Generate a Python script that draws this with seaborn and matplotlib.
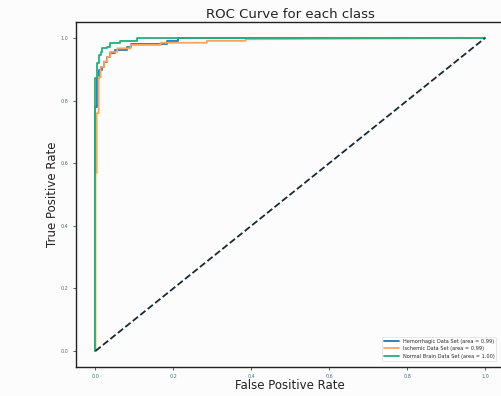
import matplotlib
matplotlib.use("Agg")
import matplotlib.pyplot as plt
import seaborn as sns
import pandas as pd

sns.set_style("ticks")
plt.rcParams['font.family'] = ['DejaVu Sans']

# ROC corner points
hem_fpr = [0.0, 0.0, 0.003, 0.003, 0.008, 0.008, 0.016, 0.016, 0.021, 0.021, 0.03, 0.03,
           0.038, 0.038, 0.051, 0.051, 0.081, 0.081, 0.09, 0.09, 0.184, 0.184, 0.213, 0.213, 1.0]
hem_tpr = [0.0, 0.78, 0.78, 0.871, 0.871, 0.898, 0.898, 0.908, 0.908, 0.924, 0.924, 0.94,
           0.94, 0.951, 0.951, 0.962, 0.962, 0.972, 0.972, 0.981, 0.981, 0.991, 0.991, 1.0, 1.0]

isc_fpr = [0.0, 0.0, 0.003, 0.003, 0.008, 0.008, 0.013, 0.013, 0.022, 0.022, 0.03, 0.03,
           0.038, 0.038, 0.056, 0.056, 0.09, 0.09, 0.167, 0.167, 0.286, 0.286, 0.385, 0.385, 1.0]
isc_tpr = [0.0, 0.57, 0.57, 0.76, 0.76, 0.875, 0.875, 0.908, 0.908, 0.925, 0.925, 0.94,
           0.94, 0.956, 0.956, 0.967, 0.967, 0.978, 0.978, 0.985, 0.985, 0.991, 0.991, 0.996, 1.0]

nor_fpr = [0.0, 0.0, 0.003, 0.003, 0.008, 0.008, 0.013, 0.013, 0.017, 0.017, 0.03, 0.03,
           0.038, 0.038, 0.062, 0.062, 0.107, 0.107, 1.0]
nor_tpr = [0.0, 0.872, 0.872, 0.919, 0.919, 0.945, 0.945, 0.956, 0.956, 0.967, 0.967, 0.972,
           0.972, 0.983, 0.983, 0.991, 0.991, 1.0, 1.0]

labels = ["Hemorrhagic Data Set (area = 0.99)",
          "Ischemic Data Set (area = 0.99)",
          "Normal Brain Data Set (area = 1.00)"]
colors = ["#1f77b4", "#ffa35c", "#1db27a"]
diag = [0.0, 1.0]

fig = plt.figure(figsize=(5.02, 3.96), dpi=100)
fig.patch.set_facecolor("#fcfcfd")
ax = fig.add_axes([76/502, 1 - 366.6/396, (504.5-76)/502, (366.6-22.4)/396])
ax.set_facecolor("#fcfcfd")

for fpr, tpr, lab, col in zip([hem_fpr, isc_fpr, nor_fpr], [hem_tpr, isc_tpr, nor_tpr], labels, colors):
    df = pd.DataFrame({"fpr": fpr, "tpr": tpr})
    sns.lineplot(data=df, x="fpr", y="tpr", sort=False, estimator=None, ax=ax,
                 color=col, lw=1.3, label=lab)

sns.lineplot(x=diag, y=diag, ax=ax, color="#1a2a33", lw=1.3, linestyle="--")

ax.set_xlim(-0.05, 1.05)
ax.set_ylim(-0.05, 1.05)
ax.set_xticks([0.0, 0.2, 0.4, 0.6, 0.8, 1.0])
ax.set_yticks([0.0, 0.2, 0.4, 0.6, 0.8, 1.0])
ax.tick_params(labelsize=3.5, length=2.5, width=0.6, pad=3, colors="#444444", labelcolor="#557080")
for s in ax.spines.values():
    s.set_linewidth(1.0)
    s.set_color("#222222")
ax.set_xlabel("False Positive Rate", fontsize=8.5, color="#222222", labelpad=0)
ax.set_ylabel("True Positive Rate", fontsize=8.5, color="#222222", labelpad=1)
ax.set_title("ROC Curve for each class", fontsize=9.5, color="#222222", pad=3)
leg = ax.legend(loc="lower right", fontsize=3.6, frameon=True, handlelength=3,
                bbox_to_anchor=(0.987, 0.01))
leg.get_frame().set_linewidth(0.4)

fig.savefig("out.png", dpi=100, facecolor=fig.get_facecolor())
